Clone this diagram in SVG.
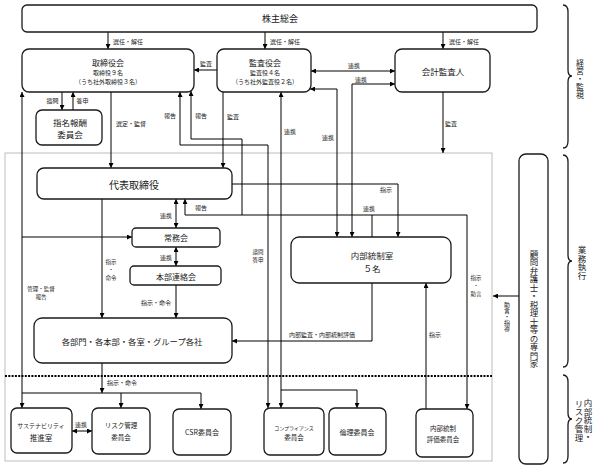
<svg xmlns="http://www.w3.org/2000/svg" width="600" height="469" viewBox="0 0 600 469">
<defs>
<marker id="ah" viewBox="0 0 10 10" refX="10" refY="5" markerWidth="5" markerHeight="5" markerUnits="userSpaceOnUse" orient="auto-start-reverse"><path d="M0,0 L10,5 L0,10 z" fill="#000"/></marker>
</defs>
<style>
.box{fill:#fff;stroke:#1a1a1a;stroke-width:1.3}
.t{font-family:"Noto Sans CJK JP","Noto Sans",sans-serif;fill:#1a1a1a;text-anchor:middle;dominant-baseline:central}
.l{font-size:6px}
.s{font-size:5.5px}
.c{fill:none;stroke:#000;stroke-width:1}
.a{marker-end:url(#ah)}
.b{marker-start:url(#ah);marker-end:url(#ah)}
.v{writing-mode:vertical-rl}
.br{fill:none;stroke:#1a1a1a;stroke-width:1.3}
</style>
<rect width="600" height="469" fill="#fff"/>
<rect x="5" y="153" width="487" height="308" fill="none" stroke="#bdbdbd" stroke-width="1"/>
<line x1="5" y1="376" x2="492" y2="376" stroke="#000" stroke-width="2" stroke-dasharray="2 1.3"/>

<g id="connectors">
<path class="c a" d="M108,32 V49"/>
<path class="c a" d="M265,32 V49"/>
<path class="c a" d="M443,32 V49"/>
<path class="c a" d="M217,70 H194"/>
<path class="c b" d="M311,71 H395"/>
<path class="c b" d="M352,237 V84 H395"/>
<path class="c b" d="M337,237 V89 H310"/>
<path class="c a" d="M443,92 V153"/>
<path class="c a" d="M62,92 V110"/>
<path class="c a" d="M73,110 V92"/>
<path class="c a" d="M111,92 V168"/>
<path class="c a" d="M223,92 V168"/>
<path class="c b" d="M268,408 V145 H180 V92"/>
<path class="c a" d="M242,215 V139 H191 V91"/>
<path class="c b" d="M281,408 V92"/>
<path class="c a" d="M281,390 H357 V408"/>
<path class="c a" d="M232,184 H398 V237"/>
<path class="c b" d="M467,409 V215 H185 V199"/>
<path class="c" d="M372,215 V237"/>
<path class="c a" d="M426,409 V283"/>
<path class="c a" d="M372,283 V341 H232"/>
<path class="c a" d="M176,285 V318"/>
<path class="c b" d="M176,199 V228"/>
<path class="c b" d="M176,247 V266"/>
<path class="c a" d="M102,199 V318"/>
<path class="c b" d="M22,408 V92"/>
<path class="c a" d="M22,237 H132"/>
<path class="c a" d="M22,393 H201 V409"/>
<path class="c a" d="M121,393 V408"/>
<path class="c a" d="M102,363 V393"/>
<path class="c b" d="M72,431 H92"/>
<path class="c a" d="M519,296 H493"/>

<text class="t l" x="128" y="41">選任・解任</text>
<text class="t l" x="285" y="41">選任・解任</text>
<text class="t l" x="464" y="41">選任・解任</text>
<text class="t l" x="206" y="63">監査</text>
<text class="t l" x="354" y="65">連携</text>
<text class="t l" x="361" y="79">連携</text>
<text class="t l" x="328" y="137">連携</text>
<text class="t l" x="451" y="123">監査</text>
<text class="t l" x="52.5" y="100">諮問</text>
<text class="t l" x="82.5" y="100">答申</text>
<text class="t l" x="131" y="123">選定・監督</text>
<text class="t l" x="233" y="116">監査</text>
<text class="t l" x="170" y="115">報告</text>
<text class="t l" x="201" y="115">報告</text>
<text class="t l" x="290" y="131">連携</text>
<text class="t s"><tspan x="258" y="251.5">諮問</tspan><tspan x="258" y="259.5">答申</tspan></text>
<text class="t l" x="386" y="189">指示</text>
<text class="t l" x="201" y="207">報告</text>
<text class="t l" x="369" y="208">連携</text>
<text class="t s"><tspan x="476" y="278">指示</tspan><tspan x="476" y="286">・</tspan><tspan x="476" y="294">助言</tspan></text>
<text class="t l" x="435" y="334">指示</text>
<text class="t l" x="322" y="334">内部監査・内部統制評価</text>
<text class="t l" x="156" y="302">指示・命令</text>
<text class="t l" x="166" y="215">連携</text>
<text class="t l" x="166" y="257">連携</text>
<text class="t s"><tspan x="111" y="262">指示</tspan><tspan x="111" y="270">・</tspan><tspan x="111" y="278">命令</tspan></text>
<text class="t s"><tspan x="41" y="288.5">管理・監督</tspan><tspan x="41" y="296.5">報告</tspan></text>
<text class="t l" x="122" y="382">指示・命令</text>
<text class="t l" x="81" y="424">連携</text>
<text class="t l v" x="507" y="317">助言・指導</text>
</g>

<g id="kabunushi"><rect class="box" x="22" y="5" width="515" height="27" rx="5"/><text class="t" x="280" y="18" font-size="9">株主総会</text></g>
<g id="torishimariyakukai"><rect class="box" x="22" y="49" width="172" height="43" rx="7"/><text class="t"><tspan x="108" y="61.5" font-size="8">取締役会</tspan><tspan x="108" y="71.5" font-size="6">取締役９名</tspan><tspan x="108" y="80.5" font-size="6">（うち社外取締役３名）</tspan></text></g>
<g id="kansayakukai"><rect class="box" x="217" y="49" width="94" height="43" rx="7"/><text class="t"><tspan x="265" y="61.5" font-size="8">監査役会</tspan><tspan x="265" y="71.5" font-size="6">監査役４名</tspan><tspan x="265" y="80.5" font-size="6">（うち社外監査役２名）</tspan></text></g>
<g id="kaikei"><rect class="box" x="395" y="49" width="95" height="43" rx="7"/><text class="t" x="443" y="71" font-size="8.5">会計監査人</text></g>
<g id="shimei"><rect class="box" x="36" y="110" width="66" height="35" rx="6"/><text class="t" font-size="8.5"><tspan x="70" y="121.5">指名報酬</tspan><tspan x="70" y="134">委員会</tspan></text></g>
<g id="daihyo"><rect class="box" x="37" y="168" width="195" height="31" rx="7"/><text class="t" x="134" y="184" font-size="10">代表取締役</text></g>
<g id="jomukai"><rect class="box" x="132" y="228" width="88" height="19" rx="4"/><text class="t" x="176" y="237.5" font-size="8">常務会</text></g>
<g id="honbu"><rect class="box" x="130" y="266" width="91" height="19" rx="4"/><text class="t" x="176" y="276" font-size="8">本部連絡会</text></g>
<g id="naibutosei"><rect class="box" x="291" y="237" width="160" height="46" rx="8"/><text class="t" font-size="8.5"><tspan x="372" y="255">内部統制室</tspan><tspan x="372" y="267.5">５名</tspan></text></g>
<g id="kakubumon"><rect class="box" x="34" y="318" width="198" height="45" rx="8"/><text class="t" x="132" y="341" font-size="8.3">各部門・各本部・各室・グループ各社</text></g>
<g id="senmonka"><rect class="box" x="519" y="154" width="29" height="310" rx="7"/><text class="t v" x="534" y="309" font-size="8.5">顧問弁護士・税理士等の専門家</text></g>
<g id="sustain"><rect class="box" x="11" y="408" width="61" height="45" rx="6"/><text class="t"><tspan x="41" y="425" font-size="6">サステナビリティ</tspan><tspan x="41" y="437" font-size="7.5">推進室</tspan></text></g>
<g id="risk"><rect class="box" x="92" y="408" width="58" height="46" rx="6"/><text class="t" font-size="6.5"><tspan x="121" y="425">リスク管理</tspan><tspan x="121" y="437">委員会</tspan></text></g>
<g id="csr"><rect class="box" x="173" y="409" width="58" height="46" rx="6"/><text class="t" x="202" y="432" font-size="7">CSR委員会</text></g>
<g id="compliance"><rect class="box" x="264" y="408" width="60" height="47" rx="6"/><text class="t"><tspan x="294" y="427" font-size="5">コンプライアンス</tspan><tspan x="294" y="437" font-size="6.5">委員会</tspan></text></g>
<g id="rinri"><rect class="box" x="329" y="408" width="57" height="47" rx="6"/><text class="t" x="357" y="432" font-size="7">倫理委員会</text></g>
<g id="hyoka"><rect class="box" x="416" y="409" width="57" height="48" rx="6"/><text class="t" font-size="6.5"><tspan x="443" y="428">内部統制</tspan><tspan x="443" y="438.5">評価委員会</tspan></text></g>

<g id="brace-keiei"><path class="br" d="M563,5 Q568,5 568,12 L568,70 Q568,76 572,76 Q568,76 568,82 L568,141 Q568,148 563,148"/><text class="t v" x="580" y="79" font-size="8">経営・監視</text></g>
<g id="brace-gyomu"><path class="br" d="M563,155 Q568,155 568,162 L568,255 Q568,261 572,261 Q568,261 568,267 L568,360 Q568,367 563,367"/><text class="t v" x="582" y="263" font-size="8.5">業務執行</text></g>
<g id="brace-naibu"><path class="br" d="M563,375 Q568,375 568,382 L568,413 Q568,419 572,419 Q568,419 568,425 L568,456 Q568,463 563,463"/><text class="t v" font-size="8.5"><tspan x="588" y="420">内部統制・</tspan><tspan x="579" y="420">リスク管理</tspan></text></g>
</svg>
